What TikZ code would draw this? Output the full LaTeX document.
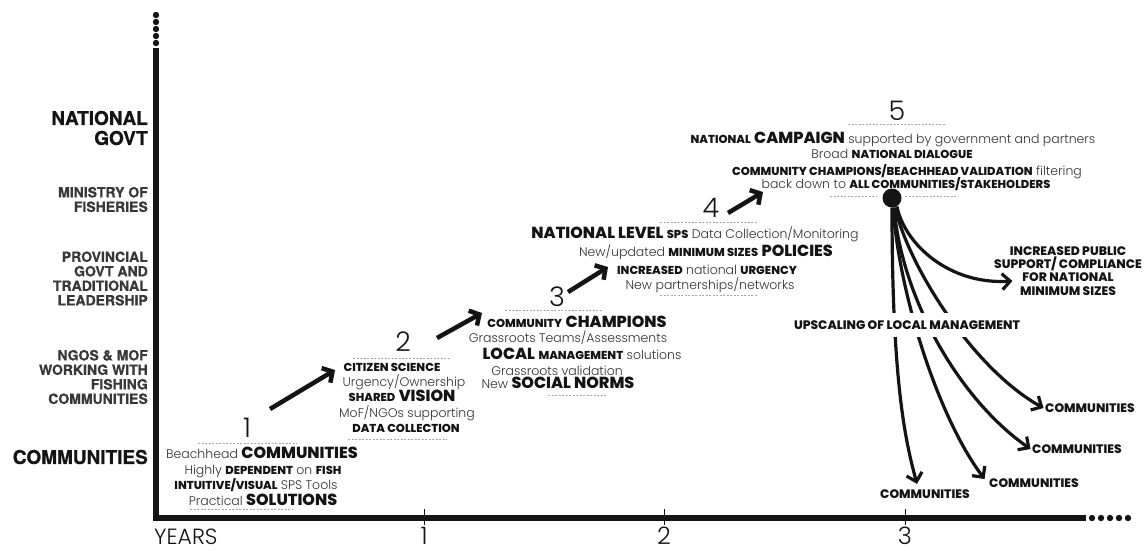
\documentclass[tikz,border=0pt]{standalone}
\usepackage{fontspec}
\usetikzlibrary{arrows.meta}
\IfFontExistsTF{Poppins Light}{\newfontfamily\lightfont{Poppins Light}}{\newfontfamily\lightfont{Poppins}}
\IfFontExistsTF{Poppins ExtraBold}{\newfontfamily\heavyfont{Poppins ExtraBold}}
  {\IfFontExistsTF{Poppins Bold}{\newfontfamily\heavyfont{Poppins Bold}}{\newfontfamily\heavyfont{Poppins}[FakeBold=2]}}
\newfontfamily\axisfont{TeX Gyre Heros}[BoldFeatures={FakeBold=0.8}]
\definecolor{ink}{HTML}{141414}
\definecolor{soft}{HTML}{333333}
\definecolor{rulegray}{HTML}{A8A8A8}
\definecolor{axisgray}{HTML}{383838}
\newcommand\lgt[1]{{\color{soft}#1}}	%light words
\newcommand\bsm[1]{{\heavyfont\fontsize{11.5}{13}\selectfont #1}}	%small bold words
\newcommand\bbg[1]{{\heavyfont\fontsize{16}{18}\selectfont #1}}	%big bold words

\begin{document}
\begin{tikzpicture}[x=1pt,y=-1pt,
	txtline/.style={anchor=base,inner sep=0pt,text=ink,font=\lightfont\fontsize{12.5}{15}\selectfont},
	stagenum/.style={anchor=base,inner sep=0pt,text=ink,font=\lightfont\fontsize{27}{27}\selectfont},
	dashrule/.style={rulegray,line width=0.6pt,dash pattern=on 2pt off 1.5pt},
	sidelab/.style={anchor=east,align=right,inner sep=0pt,text=axisgray,font=\axisfont\bfseries\fontsize{14}{14.5}\selectfont},
	bigside/.style={sidelab,text=ink,font=\axisfont\bfseries\fontsize{19}{20}\selectfont},
	ctag/.style={inner sep=1.5pt,text=ink,align=center,font=\heavyfont\fontsize{12.3}{13.2}\selectfont},
	stagearr/.style={ink,line width=4.5pt,-{Straight Barb[length=7.5pt,width=17pt]}},
	fanarr/.style={ink,line width=3.2pt,-{Straight Barb[length=8pt,width=16pt]}}]
	\fill[white] (0,0) rectangle (1148,550);
	\useasboundingbox (0,0) rectangle (1148,550);

	% axes
	\draw[ink,line width=5.5pt] (156,48) -- (156,518) -- (1086,518);
	\foreach \y in {15,22,29,36,43} \fill[ink] (156,\y) circle (3.2pt);
	\foreach \x in {1092,1101,1110,1119,1128} \fill[ink] (\x,518) circle (3.2pt);
	\foreach \x/\t in {424/1,664/2,905/3}{
		\draw[ink,line width=0.8pt] (\x,509) -- (\x,525);
		\node[stagenum,font=\lightfont\fontsize{24}{24}\selectfont] (yr\t) at (\x,544.5) {\t};
	}
	\node[anchor=base west,inner sep=0pt,text=ink,font=\lightfont\fontsize{22}{22}\selectfont] (years) at (154,544.5) {YEARS};

	% levels
	\node[bigside] (natgov) at (148,128) {NATIONAL\\GOVT};
	\node[sidelab] (mof) at (148,199.5) {MINISTRY OF\\FISHERIES};
	\node[sidelab] (prov) at (148,278.5) {PROVINCIAL\\GOVT AND\\TRADITIONAL\\LEADERSHIP};
	\node[sidelab] (ngos) at (148,377) {NGOS \& MOF\\WORKING WITH\\FISHING\\COMMUNITIES};
	\node[bigside] (comm) at (148,457) {COMMUNITIES};

	% stage numbers
	\foreach \k/\cx/\cy in {1/247/437,2/403/351,3/557/306,4/711/217,5/897/120}
		\node[stagenum] (n\k) at (\cx,\cy) {\k};

	% stage 1
	\foreach \cx/\cy/\txt [count=\k] in {262/458/{\lgt{Beachhead} \bbg{COMMUNITIES}},
		263/474/{\lgt{Highly} \bsm{DEPENDENT} \lgt{on} \bsm{FISH}},
		256/489/{\bsm{INTUITIVE/VISUAL} \lgt{SPS Tools}},
		263/505/{\lgt{Practical} \bbg{SOLUTIONS}}}
		\node[txtline] (s1-\k) at (\cx,\cy) {\txt};
	\draw[dashrule] (198,443) -- (297,443);
	\draw[dashrule] (190,509) -- (293,509);

	% stage 2
	\foreach \cx/\cy/\txt [count=\k] in {392/371/{\bsm{CITIZEN SCIENCE}},
		404/386/{\lgt{Urgency/Ownership}},
		402/401/{\bsm{SHARED} \bbg{VISION}},
		407/417/{\lgt{MoF/NGOs supporting}},
		406/432/{\bsm{DATA COLLECTION}}}
		\node[txtline] (s2-\k) at (\cx,\cy) {\txt};
	\draw[dashrule] (353,358) -- (450,358);
	\draw[dashrule] (348,439) -- (447,439);

	% stage 3
	\foreach \cx/\cy/\txt [count=\k] in {577/327/{\bsm{COMMUNITY} \bbg{CHAMPIONS}},
		568/342/{\lgt{Grassroots Teams/Assessments}},
		582/359/{\bbg{LOCAL} \bsm{MANAGEMENT} \lgt{solutions}},
		557/375/{\lgt{Grassroots validation}},
		558/388/{\lgt{New} \bbg{SOCIAL NORMS}}}
		\node[txtline] (s3-\k) at (\cx,\cy) {\txt};
	\draw[dashrule] (505,310) -- (603,310);
	\draw[dashrule] (548,395) -- (607,395);

	% stage 4
	\foreach \cx/\cy/\txt [count=\k] in {695/238/{\bbg{NATIONAL LEVEL} \bsm{SPS} \lgt{Data Collection/Monitoring}},
		706/256/{\lgt{New/updated} \bsm{MINIMUM SIZES} \bbg{POLICIES}},
		707/274/{\bsm{INCREASED} \lgt{national} \bsm{URGENCY}},
		710/289/{\lgt{New partnerships/networks}}}
		\node[txtline] (s4-\k) at (\cx,\cy) {\txt};
	\draw[dashrule] (660,222) -- (758,222);
	\draw[dashrule] (660,295) -- (758,295);

	% stage 5
	\foreach \cx/\cy/\txt [count=\k] in {893/143/{\bsm{NATIONAL} \bbg{CAMPAIGN} \lgt{supported by government and partners}},
		892/158/{\lgt{Broad} \bsm{NATIONAL DIALOGUE}},
		907/175/{\bsm{COMMUNITY CHAMPIONS/BEACHHEAD VALIDATION} \lgt{filtering}},
		906/188/{\lgt{back down to} \bsm{ALL COMMUNITIES/STAKEHOLDERS}}}
		\node[txtline] (s5-\k) at (\cx,\cy) {\txt};
	\draw[dashrule] (848,124) -- (945,124);
	\draw[dashrule] (830,196) -- (877,196);
	\draw[dashrule] (905,196) -- (957,196);

	% arrows between stages
	\foreach \sx/\sy/\ex/\ey [count=\k] in {270/409/335/370,437/338/482/313,568/292/608/267,728/213/763/192}{
		\coordinate (as\k) at (\sx,\sy);
		\coordinate (ae\k) at (\ex,\ey);
		\draw[stagearr] (as\k) -- (ae\k);
	}

	% upscaling fan
	\node[circle,fill=ink,minimum size=19pt,inner sep=0pt] (hub) at (892,198) {};
	\node[ctag] (pub) at (1068,271) {INCREASED PUBLIC\\SUPPORT/ COMPLIANCE\\FOR NATIONAL\\MINIMUM SIZES};
	\node[ctag] (c1) at (925,494) {COMMUNITIES};
	\node[ctag] (c2) at (1034,483) {COMMUNITIES};
	\node[ctag] (c3) at (1077,449) {COMMUNITIES};
	\node[ctag] (c4) at (1090,408) {COMMUNITIES};
	\draw[fanarr] (hub.south) .. controls (892,380) and (905,440) .. ([xshift=-8pt,yshift=4pt]c1.north);
	\draw[fanarr] ([xshift=1pt]hub.south) .. controls (900,300) and (940,420) .. ([xshift=-3pt,yshift=4pt]c2.west);
	\draw[fanarr] ([xshift=2pt]hub.south) .. controls (902,300) and (960,400) .. (c3.west);
	\draw[fanarr] ([xshift=3pt]hub.south) .. controls (910,270) and (975,370) .. (c4.west);
	\draw[fanarr] (hub.-60) .. controls (905,245) and (950,285) .. ([xshift=20pt,yshift=-10pt]pub.west);
	\node[ctag,fill=white,inner ysep=8pt,inner xsep=2pt] (upl) at (907,325) {UPSCALING OF LOCAL MANAGEMENT};
\end{tikzpicture}
\end{document}
